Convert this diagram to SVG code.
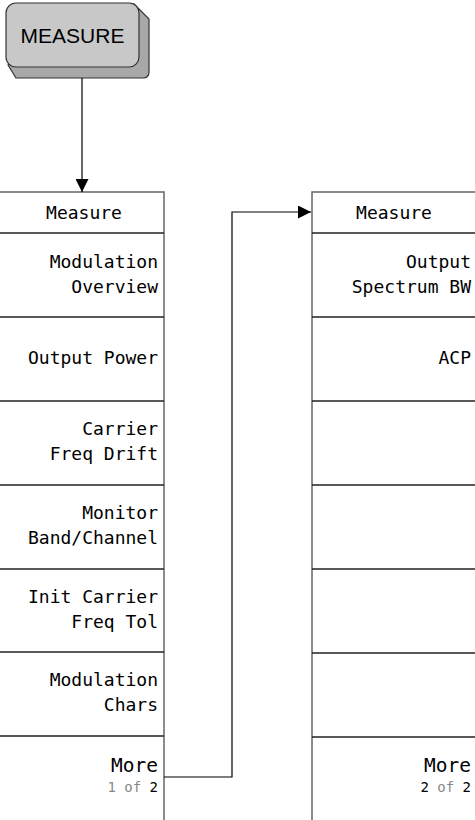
<svg xmlns="http://www.w3.org/2000/svg" width="475" height="820" viewBox="0 0 475 820">
<style>
.key{font-family:"DejaVu Sans Mono","Liberation Mono",monospace;font-size:18px;fill:#000;text-anchor:end}
.more{font-size:19.5px}
.hdr{font-family:"DejaVu Sans Mono","Liberation Mono",monospace;font-size:18px;fill:#000;text-anchor:middle}
.sm{font-family:"DejaVu Sans Mono","Liberation Mono",monospace;font-size:14px;text-anchor:end}
.g{fill:#888}
.k{fill:#000}
.sep{stroke:#222;stroke-width:1.3}
.frame{fill:#fff;stroke:#666;stroke-width:1.5}
.conn{fill:none;stroke:#000;stroke-width:1.2}
</style>
<defs>
<marker id="ah" viewBox="0 0 10 10" refX="10" refY="5" markerWidth="13" markerHeight="13" markerUnits="userSpaceOnUse" orient="auto">
<path d="M0,0 L10,5 L0,10 z" fill="#000"/>
</marker>
</defs>
<rect width="475" height="820" fill="#fff"/>
<g id="measure-key">
<path d="M134,4 L149,19 L149,72 Q149,78 143,78 L16,78 L8,65 Z" fill="#a8a8a8" stroke="#333" stroke-width="1.2"/>
<rect x="6" y="3" width="133" height="64" rx="10" ry="10" fill="#c8c8c8" stroke="#333" stroke-width="1.2"/>
<text x="72.5" y="42.5" font-family="'Liberation Sans',Arial,sans-serif" font-size="21" text-anchor="middle" fill="#000">MEASURE</text>
</g>
<g id="menu1">
<rect class="frame" x="-2" y="192" width="166" height="630"/>
<line class="sep" x1="-2" y1="233" x2="164" y2="233"/>
<line class="sep" x1="-2" y1="317" x2="164" y2="317"/>
<line class="sep" x1="-2" y1="401" x2="164" y2="401"/>
<line class="sep" x1="-2" y1="485" x2="164" y2="485"/>
<line class="sep" x1="-2" y1="569" x2="164" y2="569"/>
<line class="sep" x1="-2" y1="652" x2="164" y2="652"/>
<line class="sep" x1="-2" y1="736" x2="164" y2="736"/>
<text class="hdr" x="84" y="219">Measure</text>
<text class="key" x="158" y="268">Modulation</text>
<text class="key" x="158" y="293">Overview</text>
<text class="key" x="158" y="364">Output Power</text>
<text class="key" x="158" y="435">Carrier</text>
<text class="key" x="158" y="460">Freq Drift</text>
<text class="key" x="158" y="519">Monitor</text>
<text class="key" x="158" y="544">Band/Channel</text>
<text class="key" x="158" y="603">Init Carrier</text>
<text class="key" x="158" y="628">Freq Tol</text>
<text class="key" x="158" y="686">Modulation</text>
<text class="key" x="158" y="711">Chars</text>
<text class="key more" x="158" y="772">More</text>
<text class="sm" x="158" y="792"><tspan class="g">1 of </tspan><tspan class="k">2</tspan></text>
</g>
<g id="menu2">
<rect class="frame" x="312" y="192" width="166" height="630"/>
<line class="sep" x1="312" y1="233" x2="478" y2="233"/>
<line class="sep" x1="312" y1="317" x2="478" y2="317"/>
<line class="sep" x1="312" y1="401" x2="478" y2="401"/>
<line class="sep" x1="312" y1="485" x2="478" y2="485"/>
<line class="sep" x1="312" y1="569" x2="478" y2="569"/>
<line class="sep" x1="312" y1="653" x2="478" y2="653"/>
<line class="sep" x1="312" y1="737" x2="478" y2="737"/>
<text class="hdr" x="394" y="219">Measure</text>
<text class="key" x="471" y="268">Output</text>
<text class="key" x="471" y="293">Spectrum BW</text>
<text class="key" x="471" y="364">ACP</text>
<text class="key more" x="471" y="772">More</text>
<text class="sm" x="471" y="792"><tspan class="k">2 </tspan><tspan class="g">of </tspan><tspan class="k">2</tspan></text>
</g>
<g id="connectors">
<line class="conn" x1="82" y1="78" x2="82" y2="192" marker-end="url(#ah)"/>
<polyline class="conn" points="164,777 232,777 232,212 311,212" marker-end="url(#ah)"/>
</g>
</svg>
